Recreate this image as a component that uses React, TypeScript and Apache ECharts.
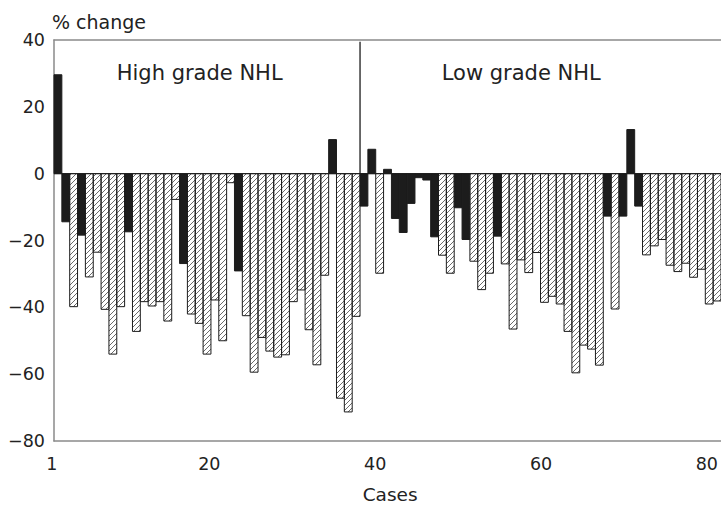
import React, { useEffect, useRef } from 'react';
import * as echarts from 'echarts';

// % change per case, left to right
const changeValues: number[] = [
  29.6, -14.4, -39.8, -18.4, -30.9, -23.5, -40.6, -54.0, -39.8, -17.4,
  -47.2, -38.3, -39.6, -38.3, -44.1, -7.7, -26.9, -42.0, -44.8, -54.0,
  -37.8, -50.0, -2.7, -29.1, -42.5, -59.4, -49.0, -53.1, -54.9, -54.2,
  -38.3, -34.8, -46.7, -57.2, -30.4, 10.2, -67.2, -71.3, -42.7, -9.7,
  7.3, -29.8, 1.3, -13.4, -17.6, -8.9, -1.2, -1.9, -18.9, -24.4,
  -29.8, -10.2, -19.7, -26.2, -34.7, -29.8, -18.7, -27.0, -46.5, -25.8,
  -29.6, -23.6, -38.5, -36.7, -39.0, -47.2, -59.6, -51.3, -52.5, -57.3,
  -12.7, -40.5, -12.7, 13.2, -9.7, -24.3, -21.6, -19.7, -27.4, -29.3,
  -26.8, -31.0, -28.6, -39.0, -38.1,
];

// B = solid black bar, H = hatched bar
const barKinds: string[] = [
  'B', 'B', 'H', 'B', 'H', 'H', 'H', 'H', 'H', 'B',
  'H', 'H', 'H', 'H', 'H', 'H', 'B', 'H', 'H', 'H',
  'H', 'H', 'H', 'B', 'H', 'H', 'H', 'H', 'H', 'H',
  'H', 'H', 'H', 'H', 'H', 'B', 'H', 'H', 'H', 'B',
  'B', 'H', 'B', 'B', 'B', 'B', 'B', 'B', 'B', 'H',
  'H', 'B', 'B', 'H', 'H', 'H', 'B', 'H', 'H', 'H',
  'H', 'H', 'H', 'H', 'H', 'H', 'H', 'H', 'H', 'H',
  'B', 'H', 'B', 'B', 'B', 'H', 'H', 'H', 'H', 'H',
  'H', 'H', 'H', 'H', 'H',
];

const xTickLabels: number[] = [1, 20, 40, 60, 80];
const yMin = -80;
const yMax = 40;
const yStep = 20;
const groupLabels: string[] = ['High grade NHL', 'Low grade NHL'];
const dividerAfterBar = 39;
const dividerTop = 39.5;

const FONT = 'DejaVu Sans';

const hatchSvg =
  "<svg xmlns='http://www.w3.org/2000/svg' width='5' height='5'>" +
  "<path d='M-1,1 L1,-1 M0,5 L5,0 M4,6 L6,4' stroke='#5a5a5a' stroke-width='0.9' fill='none'/></svg>";
const hatchUrl = 'data:image/svg+xml;charset=utf-8,' + encodeURIComponent(hatchSvg);

export default function App() {
  const ref = useRef<HTMLDivElement>(null);

  useEffect(() => {
    if (!ref.current) return;
    const chart = echarts.init(ref.current, null, { renderer: 'svg' });
    const nBars = changeValues.length;
    const barData = changeValues.map((v, i) => [i, v, barKinds[i] === 'B' ? 1 : 0]);
    const hatch: any = { image: hatchUrl, repeat: 'repeat', imageWidth: 5, imageHeight: 5 };

    const labelAxisLeft = 51.8;
    const pxPerCase = 8.325;
    const labelAxisMax = 1 + (721 + 1 - labelAxisLeft) / pxPerCase;

    chart.setOption({
      animation: false,
      backgroundColor: '#ffffff',
      grid: [
        { left: 54, right: -1, top: 40, bottom: 64 },
        { left: labelAxisLeft, right: -1, top: 40, bottom: 64 },
      ],
      xAxis: [
        {
          type: 'value', gridIndex: 0, position: 'top', min: 0, max: nBars,
          axisLine: { show: true, onZero: false, lineStyle: { color: '#8a8a8a', width: 1.5 } },
          axisTick: { show: false }, axisLabel: { show: false }, splitLine: { show: false },
        },
        {
          type: 'value', gridIndex: 0, position: 'bottom', min: 0, max: nBars,
          axisLine: { show: true, onZero: false, lineStyle: { color: '#8a8a8a', width: 1.5 } },
          axisTick: { show: false }, axisLabel: { show: false }, splitLine: { show: false },
        },
        {
          type: 'value', gridIndex: 1, position: 'bottom', min: 1, max: labelAxisMax,
          axisLine: { show: false, onZero: false }, axisTick: { show: false }, splitLine: { show: false },
          axisLabel: {
            customValues: xTickLabels,
            color: '#222', fontSize: 17.5, fontFamily: FONT,
            verticalAlign: 'middle', margin: 23,
          },
        },
      ],
      yAxis: [
        {
          type: 'value', gridIndex: 0, min: yMin, max: yMax, interval: yStep,
          axisLine: { show: true, onZero: false, lineStyle: { color: '#8a8a8a', width: 1.5 } },
          axisTick: { show: false }, splitLine: { show: false },
          axisLabel: {
            color: '#222', fontSize: 17.5, fontFamily: FONT, margin: 9,
            formatter: (v: number) => String(v).replace('-', '\u2212'),
          },
        },
        { type: 'value', gridIndex: 1, min: yMin, max: yMax, show: false },
      ],
      series: [
        {
          type: 'custom',
          xAxisIndex: 0,
          yAxisIndex: 0,
          data: barData,
          renderItem: (params: any, api: any) => {
            const i = api.value(0);
            const v = api.value(1);
            const black = api.value(2) === 1;
            const p0 = api.coord([i, 0]);
            const p1 = api.coord([i + 1, v]);
            return {
              type: 'rect',
              shape: {
                x: p0[0],
                y: Math.min(p0[1], p1[1]),
                width: p1[0] - p0[0],
                height: Math.abs(p1[1] - p0[1]),
              },
              style: {
                fill: black ? '#1c1c1c' : hatch,
                stroke: '#1c1c1c',
                lineWidth: 1,
              },
            };
          },
        },
        {
          type: 'line', xAxisIndex: 0, yAxisIndex: 0, symbol: 'none',
          data: [[0, 0], [nBars, 0]],
          lineStyle: { color: '#1c1c1c', width: 1 },
          silent: true,
        },
        {
          type: 'line', xAxisIndex: 0, yAxisIndex: 0, symbol: 'none',
          data: [[dividerAfterBar, 0], [dividerAfterBar, dividerTop]],
          lineStyle: { color: '#1c1c1c', width: 1.3 },
          silent: true,
        },
      ],
      graphic: [
        {
          type: 'text', left: 52, top: 23 - 11,
          style: { text: '% change', fontSize: 19, fontFamily: FONT, fill: '#222' },
        },
        {
          type: 'text', x: 116.7, y: 72.5,
          style: { text: groupLabels[0], fontSize: 21, fontFamily: FONT, fill: '#222', verticalAlign: 'middle' },
        },
        {
          type: 'text', x: 441.7, y: 72.5,
          style: { text: groupLabels[1], fontSize: 21, fontFamily: FONT, fill: '#222', verticalAlign: 'middle' },
        },
        {
          type: 'text', x: 362.7, y: 494,
          style: { text: 'Cases', fontSize: 18.5, fontFamily: FONT, fill: '#222', verticalAlign: 'middle' },
        },
      ],
    });
    return () => chart.dispose();
  }, []);

  return (
    <div
      ref={ref}
      style={{ position: 'fixed', left: 0, top: 0, width: 721, height: 505, background: '#fff' }}
    />
  );
}
